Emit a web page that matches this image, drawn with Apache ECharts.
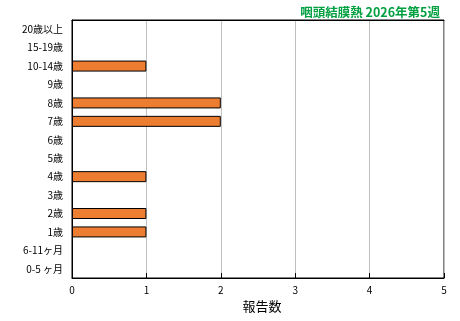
<!DOCTYPE html>
<html><head><meta charset="utf-8">
<script src="https://cdn.jsdelivr.net/npm/echarts@6/dist/echarts.min.js"></script>
<style>html,body{margin:0;padding:0;background:#fff}#c{width:460px;height:321px}</style>
</head><body><div id="c"></div>
<script>
const categories = ["0-5 ヶ月","6-11ヶ月","1歳","2歳","3歳","4歳","5歳","6歳","7歳","8歳","9歳","10-14歳","15-19歳","20歳以上"];
const values = [0,0,1,1,0,1,0,0,2,2,0,1,0,0];
const xTicks = [0,1,2,3,4,5];
const titleText = "咽頭結膜熱 2026年第5週";
const font = '"Noto Sans CJK JP", sans-serif';
const chart = echarts.init(document.getElementById('c'), null, {renderer:'canvas'});
chart.setOption({
  animation:false,
  title:{text:titleText, right:15, top:1, textStyle:{color:'#00a040', fontSize:12.5, fontWeight:'bold', fontFamily:font}},
  grid:{left:72, right:16, top:20, bottom:43, show:true, borderColor:'#000', borderWidth:1, containLabel:false},
  xAxis:[{type:'value', min:xTicks[0], max:xTicks[xTicks.length-1], interval:1,
    name:'報告数', nameLocation:'middle', nameGap:20,
    nameTextStyle:{fontSize:13, color:'#000', fontFamily:font, padding:[0,0,0,8]},
    axisLine:{show:true, lineStyle:{color:'#000'}},
    axisTick:{show:true, inside:true, length:5, lineStyle:{color:'#000'}},
    axisLabel:{fontSize:10, color:'#000', margin:7, fontFamily:font},
    splitLine:{show:true, lineStyle:{color:'#c0c0c0', width:1}}},
   {type:'value', position:'top', min:xTicks[0], max:xTicks[xTicks.length-1], interval:1,
    axisLine:{show:true, lineStyle:{color:'#000'}},
    axisTick:{show:false}, axisLabel:{show:false}, splitLine:{show:false}}],
  yAxis:{type:'category', data:categories,
    axisLine:{show:true, lineStyle:{color:'#000'}},
    axisTick:{show:false},
    axisLabel:{fontSize:10, color:'#000', margin:9, fontFamily:font},
    splitLine:{show:false}},
  series:[{type:'bar', xAxisIndex:0, data:values.map(v => v === 0 ? '-' : v), barWidth:11,
    itemStyle:{color:'#ed7d31', borderColor:'#000', borderWidth:1}}]
});
</script></body></html>
